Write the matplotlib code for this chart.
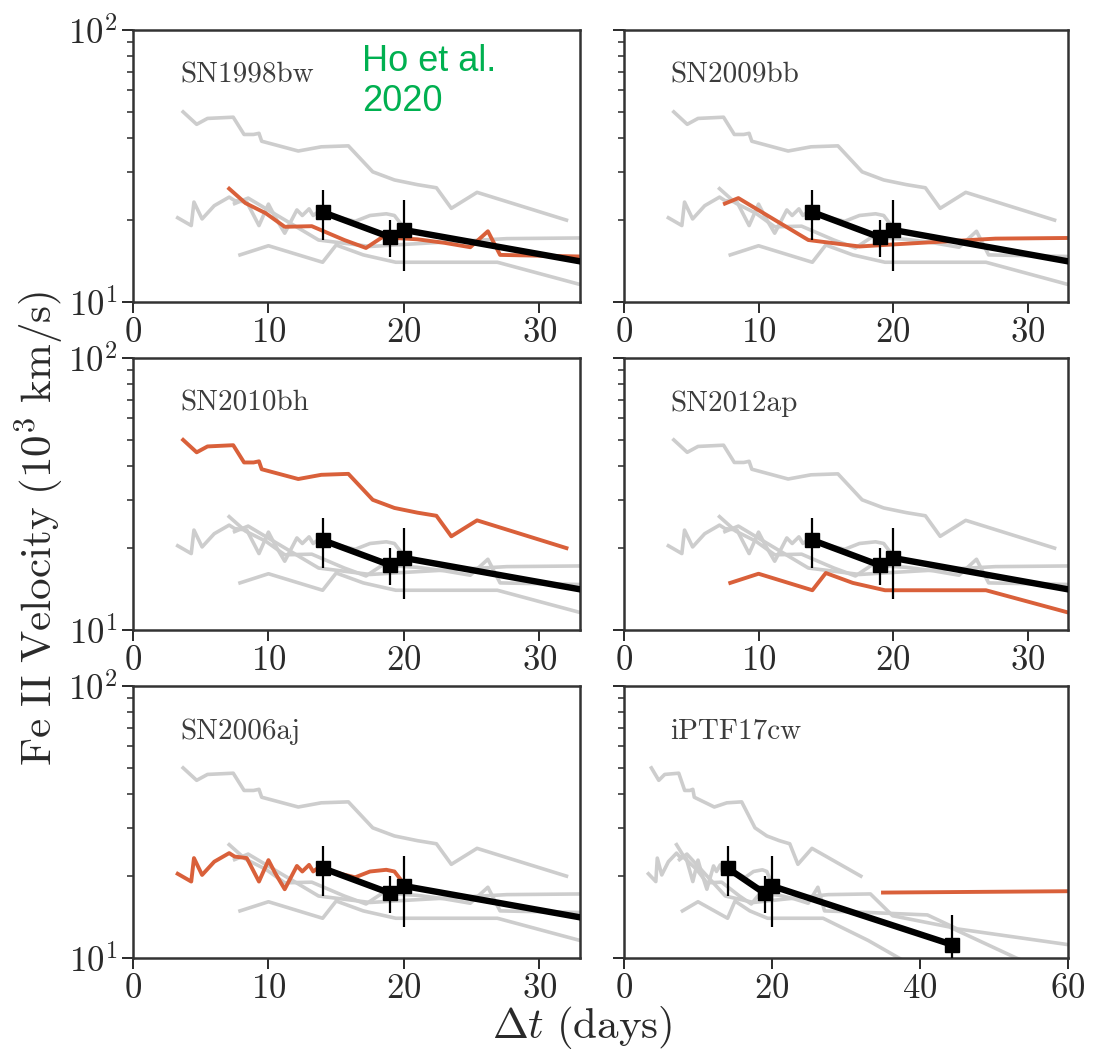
#!/usr/bin/env python3

import numpy as np
import matplotlib
matplotlib.use("Agg")
import matplotlib.pyplot as plt

plt.rcParams['font.family'] = 'serif'
plt.rcParams['font.serif'] = ['cmr10', 'DejaVu Serif']
plt.rcParams['mathtext.fontset'] = 'cm'
plt.rcParams['axes.formatter.use_mathtext'] = True
plt.rcParams['axes.unicode_minus'] = False

#- comparison SNe (velocity in 10^3 km/s vs days)
x1998bw = [7.1, 8.3, 9.8, 11.2, 13.2, 15.6, 17.2, 18.4, 21.0, 23.0, 24.9, 26.2, 27.1, 33.0, 41.0, 45.0, 60.0]
y1998bw = [26.1, 23.1, 21.2, 18.9, 19.0, 16.9, 15.8, 17.3, 17.0, 16.5, 15.9, 18.2, 14.9, 14.7, 14.4, 12.8, 11.2]

x2009bb = [7.5, 8.5, 13.7, 17.5, 20.2, 23.9, 27.6, 33.3, 36.3, 44.0, 53.0, 56.0]
y2009bb = [23.0, 24.1, 16.9, 16.0, 16.3, 16.7, 17.1, 17.2, 14.3, 13.0, 10.0, 9.3]

x2010bh = [3.7, 4.7, 5.5, 7.4, 8.2, 8.9, 9.3, 9.5, 12.2, 13.9, 15.9, 17.7, 19.3, 21.0, 22.4, 23.5, 25.4, 32.0]
y2010bh = [50.0, 45.0, 47.3, 47.8, 41.3, 41.3, 41.7, 39.0, 35.9, 37.2, 37.5, 30.1, 28.1, 27.0, 26.3, 22.1, 25.3, 20.0]

x2012ap = [7.9, 10.0, 14.0, 15.0, 17.0, 19.4, 26.9, 33.0, 38.0]
y2012ap = [14.9, 16.1, 14.0, 16.2, 14.9, 14.0, 14.0, 11.6, 9.7]

x2006aj = [3.3, 4.3, 4.5, 5.1, 6.0, 7.1, 7.5, 8.4, 9.3, 10.0, 10.5, 11.2, 12.1, 12.5, 13.0,
           13.3, 13.7, 14.5, 15.5, 16.4, 17.5, 18.7, 19.3, 19.7]
y2006aj = [20.4, 19.1, 23.3, 20.2, 22.6, 24.3, 23.6, 23.3, 19.1, 22.9, 20.5, 17.9, 21.8, 20.8, 22.0,
           20.8, 21.5, 21.0, 20.3, 19.8, 20.8, 21.1, 20.8, 19.6]

x17cw = [35.0, 60.0]
y17cw = [17.4, 17.6]

#- Ho et al. 2020 object
tx = [14.0, 19.0, 20.0, 44.3]
ty = [21.4, 17.3, 18.4, 11.2]
terr = [4.5, 2.7, 5.4, 3.2]

names = ["SN1998bw", "SN2009bb", "SN2010bh", "SN2012ap", "SN2006aj", "iPTF17cw"]
curves = {
    "SN1998bw": (x1998bw, y1998bw),
    "SN2009bb": (x2009bb, y2009bb),
    "SN2010bh": (x2010bh, y2010bh),
    "SN2012ap": (x2012ap, y2012ap),
    "SN2006aj": (x2006aj, y2006aj),
    "iPTF17cw": (x17cw, y17cw),
}

W, H = 1095, 1057
fig = plt.figure(figsize=(W/100, H/100), dpi=100)

cols = [(133, 580), (624, 1068)]
rows = [(30, 302), (358, 630), (686, 958)]

for i, name in enumerate(names):
    r, c = divmod(i, 2)
    x0, x1 = cols[c]
    y0, y1 = rows[r]
    ax = fig.add_axes([x0/W, 1 - y1/H, (x1 - x0)/W, (y1 - y0)/H])

    for other in names:
        if other == name:
            continue
        ox, oy = curves[other]
        ax.plot(ox, oy, color='#cdcdcd', lw=2.6, zorder=1)
    hx, hy = curves[name]
    ax.plot(hx, hy, color='#d9603a', lw=2.8, zorder=2)

    ax.errorbar(tx, ty, yerr=terr, color='k', lw=4.6, marker='s', ms=10,
                elinewidth=1.6, capsize=0, zorder=3)

    ax.set_yscale('log')
    ax.set_ylim(10, 100)
    if name == "iPTF17cw":
        ax.set_xlim(0, 60)
        ax.set_xticks([0, 20, 40, 60])
    else:
        ax.set_xlim(0, 33)
        ax.set_xticks([0, 10, 20, 30])
    ax.set_yticks([10, 100])
    if c == 0:
        ax.set_yticklabels([r'$10^1$', r'$10^2$'])
    else:
        ax.set_yticklabels([])
    ax.tick_params(which='major', direction='out', length=8, width=1.4,
                   labelsize=25, pad=3, colors='#2a2a2a')
    ax.tick_params(which='minor', direction='out', length=4, width=1.1, colors='#2a2a2a')
    ax.tick_params(axis='y', which='minor', labelleft=False)
    for sp in ax.spines.values():
        sp.set_linewidth(1.8)
        sp.set_color('#333333')

    ax.text(0.105, 0.806, name, transform=ax.transAxes, fontsize=21,
            color='#3c3c3c', va='baseline', ha='left')

fig.text(0.036, 0.5, r'$\mathrm{Fe\ II\ Velocity\ (10^3\ km/s)}$',
         rotation=90, ha='center', va='center', fontsize=31, color='#2a2a2a')
fig.text(0.532, 0.028, r'$\Delta t\ \mathrm{(days)}$', ha='center', va='center',
         fontsize=31, color='#2a2a2a')

fig.text(362/W, 1 - 44/H, "Ho et al.\n2020", family='Liberation Sans', fontsize=26,
         color='#00b050', ha='left', va='top', linespacing=1.2)

plt.savefig("out.png", dpi=100)
